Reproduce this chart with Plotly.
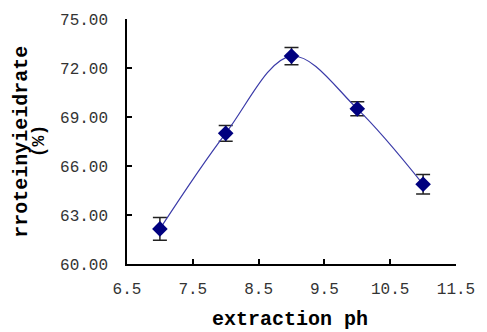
import plotly.graph_objects as go

ph = [7, 8, 9, 10, 11]
yield_rate = [62.15, 68.0, 72.73, 69.5, 64.88]
err = [0.70, 0.48, 0.53, 0.43, 0.60]
x_ticks = [6.5, 7.5, 8.5, 9.5, 10.5, 11.5]
y_ticks = [60, 63, 66, 69, 72, 75]
y_title_line1 = "rroteinyieidrate"
y_title_line2 = "(%)"
x_title = "extraction ph"

fig = go.Figure()
fig.add_trace(go.Scatter(
    x=ph, y=yield_rate, mode="lines+markers",
    line=dict(shape="spline", color="#3a3aa8", width=1.2),
    marker=dict(symbol="diamond", size=12, color="#00007f"),
    error_y=dict(type="data", array=err, visible=True, color="#222222", thickness=1.5, width=7),
    showlegend=False,
    cliponaxis=False,
))

tickfont = dict(family="Liberation Mono", size=16, color="#333333")
fig.update_layout(
    width=487, height=332,
    margin=dict(l=127, r=21, t=17, b=68),
    paper_bgcolor="white", plot_bgcolor="white",
    xaxis=dict(range=[6.5, 11.5], tickvals=x_ticks, ticktext=[f"{v:.1f}" for v in x_ticks],
               showgrid=False, zeroline=False, showline=True, linecolor="black", linewidth=1.5,
               ticks="inside", ticklen=5, tickcolor="black", tickwidth=1.5,
               ticklabelstandoff=9, tickfont=tickfont),
    yaxis=dict(range=[60, 75], tickvals=y_ticks, ticktext=[f"{v:.2f}" for v in y_ticks],
               showgrid=False, zeroline=False, showline=True, linecolor="black", linewidth=1.5,
               ticks="inside", ticklen=5, tickcolor="black", tickwidth=1.5,
               ticklabelstandoff=14, tickfont=tickfont),
    annotations=[
        dict(text="<b>" + y_title_line1 + "</b>", xref="paper", yref="paper",
             x=-127/339 + 18/339, y=0.5, textangle=-90, showarrow=False,
             font=dict(family="Liberation Mono", size=20, color="black"), xanchor="center", yanchor="middle"),
        dict(text="<b>" + y_title_line2 + "</b>", xref="paper", yref="paper",
             x=-127/339 + 36/339, y=0.5, textangle=-90, showarrow=False,
             font=dict(family="Liberation Mono", size=18, color="black"), xanchor="center", yanchor="middle"),
        dict(text="<b>" + x_title + "</b>", xref="paper", yref="paper",
             x=(295 - 127)/339, y=-(319 - 263.5)/246.5, showarrow=False,
             font=dict(family="Liberation Mono", size=20, color="black"), xanchor="center", yanchor="middle"),
    ],
)
fig.write_html("out.html")
